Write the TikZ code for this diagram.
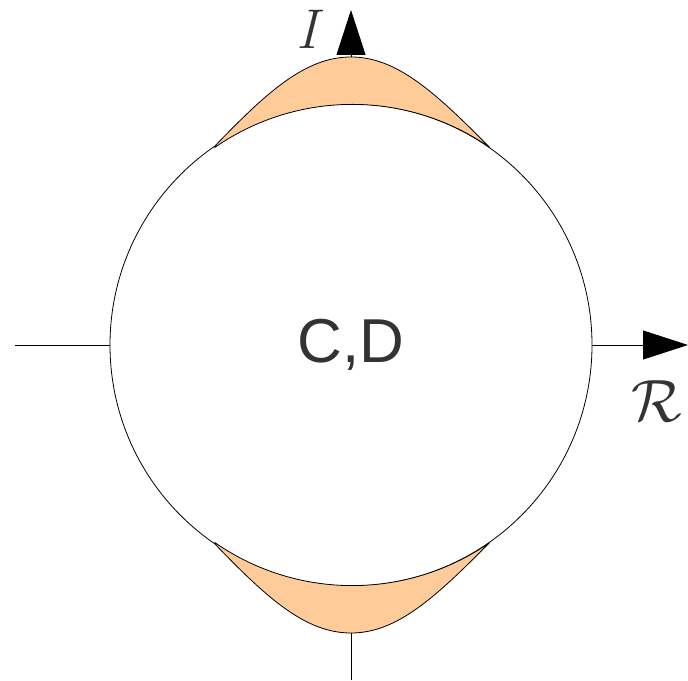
\documentclass[tikz,border=0pt]{standalone}
\usepackage{fontspec}
\newfontfamily\labelfont{Liberation Sans}
\usepackage{tikz}
\usetikzlibrary{positioning, arrows.meta, calc}
\definecolor{lensfill}{HTML}{FFCB98}
\definecolor{textgray}{HTML}{333333}

\begin{document}
\begin{tikzpicture}[x=1pt, y=1pt,
      axis/.style={line width=0.9pt, -{Triangle[length=45pt, width=29pt]}},
      lens/.style={fill=lensfill, draw=black, line width=0.8pt},
      lbl/.style={text=textgray, inner sep=0pt}]

    \useasboundingbox (0, 0) rectangle (688, 680);

    % axes
    \coordinate (xl) at (15, 335);
    \coordinate (xr) at (688, 335);
    \coordinate (yb) at (351, 0);
    \coordinate (yt) at (351, 670);
    \draw[axis] (xl) -- (xr);
    \draw[axis] (yb) -- (yt);

    \node[circle, draw, fill=white, line width=0.8pt, minimum size=482pt,
      inner sep=0pt, text=textgray,
      font=\labelfont\fontsize{62}{62}\selectfont] at (351, 335) (cd) {C,D};

    % lenses
    \coordinate (top) at (351, 623);
    \coordinate (bot) at (351, 47);
    \draw[lens] (cd.124.7) .. controls (268, 589) and (306, 623) .. (top)
      .. controls (396, 623) and (434, 589) .. (cd.55.3)
      arc[start angle=55.3, end angle=124.7, radius=241pt] -- cycle;
    \draw[lens] (cd.-124.7) .. controls (268, 81) and (306, 47) .. (bot)
      .. controls (396, 47) and (434, 81) .. (cd.-55.3)
      arc[start angle=-55.3, end angle=-124.7, radius=241pt] -- cycle;

    \node[lbl, font=\fontsize{56}{56}\selectfont] at (310, 651) (im) {\textit{I}};
    \node[lbl] at (657, 279) (re) {\scalebox{2.4}{\Huge$\mathcal{R}$}};
  \end{tikzpicture}
\end{document}
